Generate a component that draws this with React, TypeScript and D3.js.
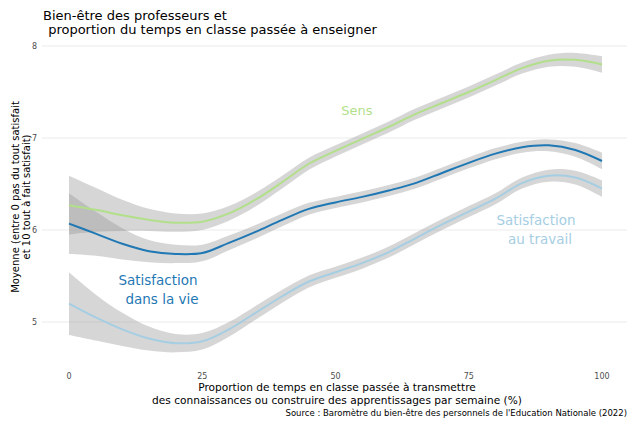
import React from "react";
import * as d3 from "d3";

const xValues = [0, 5, 10, 15, 20, 25, 30, 35, 40, 45, 50, 55, 60, 65, 70, 75, 80, 85, 90, 95, 100];
const sens = [6.27, 6.22, 6.16, 6.11, 6.08, 6.09, 6.18, 6.33, 6.52, 6.72, 6.86, 6.99, 7.12, 7.26, 7.38, 7.5, 7.63, 7.76, 7.84, 7.85, 7.8];
const satVie = [6.07, 5.96, 5.85, 5.77, 5.74, 5.75, 5.86, 5.98, 6.11, 6.23, 6.3, 6.36, 6.43, 6.51, 6.62, 6.73, 6.83, 6.9, 6.92, 6.87, 6.75];
const satTravail = [5.2, 5.05, 4.92, 4.82, 4.77, 4.79, 4.92, 5.1, 5.28, 5.44, 5.54, 5.64, 5.76, 5.91, 6.06, 6.2, 6.34, 6.51, 6.59, 6.57, 6.45];
const sensCI = [0.32, 0.24, 0.17, 0.12, 0.1, 0.09, 0.08, 0.075, 0.07, 0.065, 0.06, 0.06, 0.06, 0.06, 0.06, 0.06, 0.06, 0.06, 0.065, 0.075, 0.09];
const satVieCI = [0.33, 0.24, 0.17, 0.12, 0.1, 0.09, 0.08, 0.075, 0.07, 0.065, 0.06, 0.06, 0.06, 0.06, 0.06, 0.06, 0.06, 0.06, 0.065, 0.075, 0.09];
const satTravailCI = [0.34, 0.25, 0.18, 0.13, 0.1, 0.09, 0.08, 0.075, 0.07, 0.065, 0.06, 0.06, 0.06, 0.06, 0.06, 0.06, 0.06, 0.06, 0.065, 0.075, 0.09];
const xTicks = [0, 25, 50, 75, 100];
const yTicks = [5, 6, 7, 8];

const series = [
  { name: "Sens", values: sens, ci: sensCI, color: "#b2df8a" },
  { name: "Satisfaction dans la vie", values: satVie, ci: satVieCI, color: "#1f78b4" },
  { name: "Satisfaction au travail", values: satTravail, ci: satTravailCI, color: "#a6cee3" },
];

const W = 627;
const H = 423;
const FONT = "DejaVu Sans, sans-serif";

export default function App() {
  const x = d3.scaleLinear().domain([0, 100]).range([69, 602]);
  const y = d3.scaleLinear().domain([5, 8]).range([322, 46]);

  const area = d3
    .area<[number, number, number]>()
    .x((d) => x(d[0]))
    .y0((d) => y(d[1] - d[2]))
    .y1((d) => y(d[1] + d[2]))
    .curve(d3.curveCatmullRom.alpha(0.5));
  const line = d3
    .line<[number, number]>()
    .x((d) => x(d[0]))
    .y((d) => y(d[1]))
    .curve(d3.curveCatmullRom.alpha(0.5));

  return (
    <svg width={W} height={H} style={{ position: "absolute", left: 0, top: 0 }} fontFamily={FONT}>
      <rect width={W} height={H} fill="#fff" />
      {yTicks.map((t) => (
        <g key={t}>
          <line x1={42} x2={627} y1={y(t)} y2={y(t)} stroke="#ebebeb" strokeWidth={1} />
          <text x={37} y={y(t) + 3} fontSize={8} fill="#4d4d4d" textAnchor="end">
            {t}
          </text>
        </g>
      ))}
      {xTicks.map((t) => (
        <text key={t} x={x(t)} y={379} fontSize={8} fill="#4d4d4d" textAnchor="middle">
          {t}
        </text>
      ))}
      {series.map((s) => (
        <path
          key={s.name + "ci"}
          d={area(xValues.map((v, i) => [v, s.values[i], s.ci[i]] as [number, number, number])) || ""}
          fill="#999999"
          fillOpacity={0.4}
        />
      ))}
      {series.map((s) => (
        <path
          key={s.name}
          d={line(xValues.map((v, i) => [v, s.values[i]] as [number, number])) || ""}
          fill="none"
          stroke={s.color}
          strokeWidth={2}
        />
      ))}
      <text x={357} y={115} fontSize={13} fill="#b2df8a" textAnchor="middle">Sens</text>
      <text fontSize={13.5} fill="#1f78b4" textAnchor="middle">
        <tspan x={158} y={285}>Satisfaction</tspan>
        <tspan x={162} y={304}>dans la vie</tspan>
      </text>
      <text fontSize={13.5} fill="#a6cee3" textAnchor="middle">
        <tspan x={536} y={225}>Satisfaction</tspan>
        <tspan x={540} y={244}>au travail</tspan>
      </text>
      <text fontSize={13} fill="#000">
        <tspan x={43} y={20}>Bien-être des professeurs et</tspan>
        <tspan x={44} y={33.5}>{"\u00a0proportion du temps en classe passée à enseigner"}</tspan>
      </text>
      <text fontSize={10} fill="#000" textAnchor="middle" transform={`translate(0, ${197}) rotate(-90)`}>
        <tspan x={0} y={19}>Moyenne (entre 0 pas du tout satisfait</tspan>
        <tspan x={0} y={30}>et 10 tout à fait satisfait)</tspan>
      </text>
      <text fontSize={10.6} fill="#000" textAnchor="middle">
        <tspan x={337} y={391}>Proportion de temps en classe passée à transmettre</tspan>
        <tspan x={337} y={404}>des connaissances ou construire des apprentissages par semaine (%)</tspan>
      </text>
      <text x={627} y={416} fontSize={8.5} fill="#000" textAnchor="end">
        Source : Baromètre du bien-être des personnels de l'Education Nationale (2022)
      </text>
    </svg>
  );
}
